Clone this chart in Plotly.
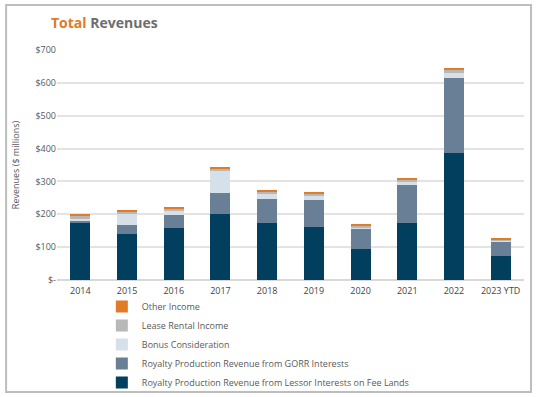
import plotly.graph_objects as go

years = ["2014", "2015", "2016", "2017", "2018", "2019", "2020", "2021", "2022", "2023 YTD"]

lessor = [174, 139, 159, 200, 174, 160, 95, 173, 386, 74]
gorr = [7, 28, 40, 66, 72, 83, 61, 117, 230, 43]
bonus = [5, 35, 14, 67, 16, 14, 5, 11, 15, 3]
lease = [10, 5, 6, 7, 7, 6, 4, 4, 8, 3]
other = [3, 6, 3, 4, 4, 5, 5, 3, 7, 2]

series_names = [
    "Royalty Production Revenue from Lessor Interests on Fee Lands",
    "Royalty Production Revenue from GORR Interests",
    "Bonus Consideration",
    "Lease Rental Income",
    "Other Income",
]
series_values = [lessor, gorr, bonus, lease, other]
colors = ["#023E5E", "#687F95", "#D5E0E8", "#B8B8B8", "#E07B28"]

ytick_vals = [0, 100, 200, 300, 400, 500, 600, 700]
ytick_text = ["$-", "$100", "$200", "$300", "$400", "$500", "$600", "$700"]

fig = go.Figure()
for name, vals, c in zip(series_names, series_values, colors):
    fig.add_trace(go.Bar(x=years, y=vals, name=name, marker=dict(color=c, line=dict(width=0))))

font_family = "Open Sans, DejaVu Sans, sans-serif"

fig.update_layout(
    width=536,
    height=397,
    barmode="stack",
    bargap=0.57,
    plot_bgcolor="white",
    paper_bgcolor="white",
    margin=dict(l=57, r=12, t=50, b=117, autoexpand=False),
    font=dict(family=font_family, size=9, color="#595959"),
    showlegend=True,
    legend=dict(
        traceorder="reversed",
        x=0.096,
        y=-0.052,
        xanchor="left",
        yanchor="top",
        font=dict(size=9, color="#595959"),
        itemwidth=30,
        tracegroupgap=0,
        bgcolor="rgba(0,0,0,0)",
    ),
    xaxis=dict(
        showgrid=False,
        showline=False,
        ticks="",
        ticklabelstandoff=4,
        tickfont=dict(size=9, color="#444444"),
    ),
    yaxis=dict(
        range=[0, 700],
        tickvals=ytick_vals,
        ticktext=ytick_text,
        showgrid=True,
        gridcolor="#E3E3E3",
        gridwidth=2,
        zeroline=True,
        zerolinecolor="#D9D9D9",
        zerolinewidth=2,
        ticks="",
        tickfont=dict(size=9, color="#595959"),
        title=dict(text="Revenues ($ millions)", font=dict(size=9, color="#595959"), standoff=14),
    ),
    shapes=[
        dict(
            type="rect", xref="paper", yref="paper",
            x0=-0.109, x1=1.015, y0=-0.487, y1=1.196,
            line=dict(color="#BDBDBD", width=2),
            fillcolor="rgba(0,0,0,0)",
            layer="below",
        )
    ],
    annotations=[
        dict(
            text="<b><span style='color:#E07B28'>Total</span> <span style='color:#6E6E6E'>Revenues</span></b>",
            xref="paper", yref="paper",
            x=-0.017, y=1.12,
            xanchor="left", yanchor="middle",
            showarrow=False,
            font=dict(size=14, family=font_family),
        )
    ],
)

fig.write_html(
    "out.html",
    config={"displayModeBar": False},
    post_script="document.body.style.margin='0';document.body.style.overflow='hidden';",
)
